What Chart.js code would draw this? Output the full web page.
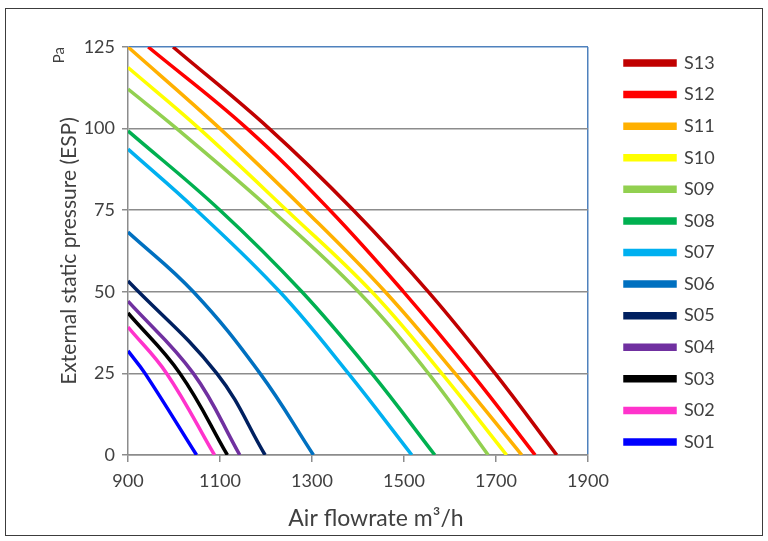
<!DOCTYPE html>
<html>
<head>
<meta charset="utf-8">
<script src="https://cdn.jsdelivr.net/npm/chart.js@4.4.1/dist/chart.umd.min.js"></script>
<style>
  html, body { margin: 0; padding: 0; background: #ffffff; }
  #wrap { width: 768px; height: 541px; position: relative; }
</style>
</head>
<body>
<div id="wrap"><canvas id="c" width="768" height="541"></canvas></div>
<script>
// ---- data ----
const seriesNames = ['S13','S12','S11','S10','S09','S08','S07','S06','S05','S04','S03','S02','S01'];
const seriesColors = ['#C00000','#FF0000','#FFB000','#FFFF00','#92D050','#00B050','#00B0F0','#0070C0','#002060','#7030A0','#000000','#FF33CC','#0000FF'];

const flowS13 = [998, 1207, 1390, 1553, 1698, 1832];
const espS13  = [125, 100, 75, 50, 25, 0];
const flowS12 = [944, 1159, 1339, 1499, 1647, 1785];
const espS12  = [125, 100, 75, 50, 25, 0];
const flowS11 = [900, 1100, 1285, 1459, 1611, 1756];
const espS11  = [125, 100, 75, 50, 25, 0];
const flowS10 = [900, 1055, 1245, 1430, 1582, 1723];
const espS10  = [118.7, 100, 75, 50, 25, 0];
const flowS09 = [900, 1006, 1212, 1401, 1553, 1683];
const espS09  = [112.1, 100, 75, 50, 25, 0];
const flowS08 = [900, 1100, 1278, 1430, 1567];
const espS08  = [99.3, 75, 50, 25, 0];
const flowS07 = [900, 1049, 1230, 1379, 1517];
const espS07  = [93.7, 75, 50, 25, 0];
const flowS06 = [900, 1042, 1187, 1303];
const espS06  = [68.3, 50, 25, 0];
const flowS05 = [900, 1093, 1198];
const espS05  = [53.3, 25, 0];
const flowS04 = [900, 1042, 1143];
const espS04  = [47.1, 25, 0];
const flowS03 = [900, 1013, 1116];
const espS03  = [43.5, 25, 0];
const flowS02 = [900, 984, 1088];
const espS02  = [39.2, 25, 0];
const flowS01 = [900, 937, 1049];
const espS01  = [31.9, 25, 0];

const xTicks = [900, 1100, 1300, 1500, 1700, 1900];
const yTicks = [0, 25, 50, 75, 100, 125];

const flows = [flowS13, flowS12, flowS11, flowS10, flowS09, flowS08, flowS07, flowS06, flowS05, flowS04, flowS03, flowS02, flowS01];
const esps  = [espS13, espS12, espS11, espS10, espS09, espS08, espS07, espS06, espS05, espS04, espS03, espS02, espS01];

const datasets = seriesNames.map((name, i) => ({
  label: name,
  data: flows[i].map((f, j) => ({ x: f, y: esps[i][j] })),
  borderColor: seriesColors[i],
  backgroundColor: seriesColors[i],
  borderWidth: 3.5,
  pointRadius: 0,
  tension: 0.4,
  fill: false
}));

const TXT = '#404040';
const GRID = '#8C8C8C';
const BLUE = '#4F81BD';
const FONT = 'Lato';

const extras = {
  id: 'extras',
  afterLayout(chart) {
    const lg = chart.legend;
    const pad = lg.options.labels.padding;
    const fs = lg.options.labels.font.size;
    lg.left = 625 - pad; lg.right = chart.width;
    lg.top = 63 - fs / 2 - pad; lg.bottom = chart.height;
  },
  beforeDraw(chart) {
    const c = chart.ctx;
    c.save();
    c.fillStyle = '#ffffff';
    c.fillRect(0, 0, chart.width, chart.height);
    c.strokeStyle = '#3C3C3C';
    c.lineWidth = 1;
    c.strokeRect(5.5, 8.5, 757, 527);
    c.restore();
  },
  afterDraw(chart) {
    const c = chart.ctx;
    const ya = chart.scales.y;
    c.save();
    c.fillStyle = TXT;
    // unit label on the y axis
    c.save();
    c.translate(59, ya.getPixelForValue(125));
    c.rotate(-Math.PI / 2);
    c.textAlign = 'right';
    c.textBaseline = 'middle';
    c.font = '15px ' + FONT;
    c.fillText('Pa', 0, 0);
    c.restore();
    // x axis title
    c.textAlign = 'center';
    c.textBaseline = 'middle';
    c.font = '23px ' + FONT;
    c.fillText('Air flowrate m\u00b3/h', 376, 519);
    c.restore();
  }
};

new Chart(document.getElementById('c'), {
  type: 'line',
  data: { datasets },
  plugins: [extras],
  options: {
    responsive: false,
    animation: false,
    events: [],
    layout: { padding: { left: 0, top: 47, right: 120, bottom: 0 } },
    plugins: {
      legend: {
        display: true,
        position: 'right',
        align: 'start',
        maxWidth: 60,
        labels: {
          boxWidth: 50,
          boxHeight: 4,
          padding: 13.58,
          color: TXT,
          font: { family: FONT, size: 18 }
        }
      },
      tooltip: { enabled: false },
      title: { display: false }
    },
    scales: {
      x: {
        type: 'linear',
        min: 900,
        max: 1900,
        afterBuildTicks: s => { s.ticks = xTicks.map(v => ({ value: v })); },
        afterFit: s => { s.height = 86; },
        border: { display: true, color: GRID, width: 1.5 },
        grid: {
          drawOnChartArea: true,
          color: ctx => (ctx.tick && ctx.tick.value === 1900) ? BLUE : 'rgba(0,0,0,0)',
          tickColor: GRID,
          tickLength: 7,
          lineWidth: 1.5
        },
        ticks: {
          color: TXT,
          padding: 8,
          maxRotation: 0,
          font: { family: FONT, size: 18 },
          callback: v => String(v)
        },
        title: { display: false }
      },
      y: {
        type: 'linear',
        min: 0,
        max: 125,
        afterBuildTicks: s => { s.ticks = yTicks.map(v => ({ value: v })); },
        afterFit: s => { s.width = 128; },
        border: { display: true, color: GRID, width: 1.5 },
        grid: {
          color: ctx => (ctx.tick && ctx.tick.value === 125) ? BLUE : GRID,
          tickColor: GRID,
          tickLength: 6,
          lineWidth: 1.5
        },
        ticks: {
          color: TXT,
          padding: 7,
          font: { family: FONT, size: 18 },
          callback: v => String(v)
        },
        title: {
          display: true,
          text: 'External static pressure (ESP)',
          color: TXT,
          font: { family: FONT, size: 21 },
          padding: { top: 57, bottom: 0 }
        }
      }
    }
  }
});
</script>
</body>
</html>
